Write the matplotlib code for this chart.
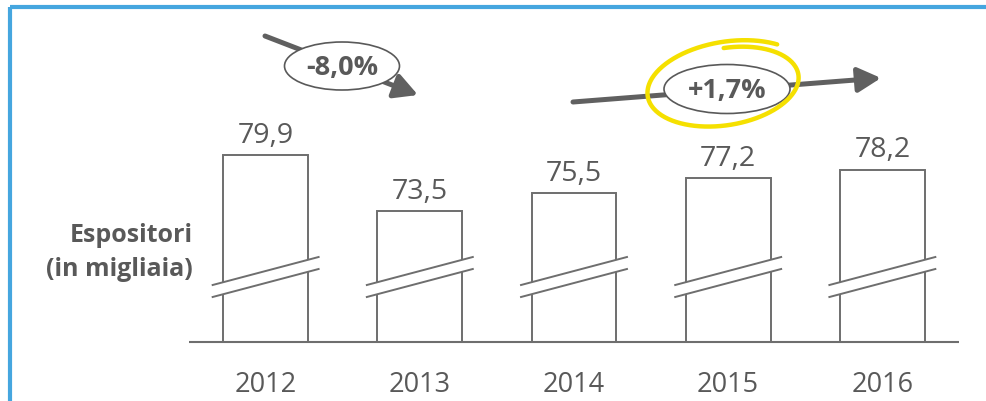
import numpy as np
import matplotlib
matplotlib.use("Agg")
import matplotlib.pyplot as plt
from matplotlib.patches import Ellipse, FancyArrowPatch, Polygon, Rectangle
from matplotlib.lines import Line2D
from matplotlib import transforms

# --- data ---
years = ["2012", "2013", "2014", "2015", "2016"]
values = [79.9, 73.5, 75.5, 77.2, 78.2]
change_down = "-8,0%"
change_up = "+1,7%"
axis_label = ["Espositori", "(in migliaia)"]

W, H = 986, 402
GRAY = "#595959"
LINE = "#6e6e6e"
BLUE = "#45A6DF"
YELLOW = "#F5E000"
FONT = "Open Sans"

fig = plt.figure(figsize=(W / 100, H / 100), dpi=100)
fig.patch.set_facecolor("white")

# pixel coordinates measured from the top-left corner of the figure
px = transforms.Affine2D().scale(1, -1).translate(0, H)

# axes box in pixels
ax_l, ax_r, ax_b, ax_t = 189, 959, 343, 10
ax = fig.add_axes([ax_l / W, (H - ax_b) / H, (ax_r - ax_l) / W, (ax_b - ax_t) / H])
ybot = 58.6
px_per_unit = 8.8
ax.set_xlim(-0.497, 4.497)
ax.set_ylim(ybot, ybot + (ax_b - ax_t) / px_per_unit)
ax.axis("off")

x = np.arange(len(years))
bar_w = 0.55
ax.bar(x, values, width=bar_w, color="white", edgecolor=LINE, linewidth=1.4, zorder=2)

# baseline
ax.plot([-0.497, 4.497], [ybot, ybot], color=LINE, lw=1.5, zorder=3, clip_on=False,
        solid_capstyle="butt")

# break marks across each bar
bt = transforms.blended_transform_factory(ax.transData, ax.transAxes)
axh = ax_b - ax_t
half = 53 / 154.25
for xi in x:
    xl, xr = xi - half, xi + half
    up_l, up_r = 57 / axh, 85 / axh
    lo_l, lo_r = 45 / axh, 73 / axh
    ax.add_patch(Polygon([[xl, lo_l], [xr, lo_r], [xr, up_r], [xl, up_l]],
                         closed=True, facecolor="white", edgecolor="none",
                         transform=bt, zorder=4, clip_on=False))
    for yl, yr in ((up_l, up_r), (lo_l, lo_r)):
        ax.add_line(Line2D([xl, xr], [yl, yr], color=LINE, lw=1.4, transform=bt,
                           zorder=5, clip_on=False))

# value labels above bars
for xi, v in zip(x, values):
    ax.annotate(f"{v:.1f}".replace(".", ","), xy=(xi, v), xytext=(0, 9.4),
                textcoords="offset points", ha="center", va="baseline",
                fontsize=20.5, color=GRAY, family=FONT, zorder=6)

# year labels under the baseline
for xi, yr in zip(x, years):
    ax.annotate(yr, xy=(xi, 0), xycoords=("data", "axes fraction"),
                xytext=(0, -35.3), textcoords="offset points", ha="center",
                va="baseline", fontsize=19.5, color=GRAY, family=FONT)

# axis caption
fig.text(193, 242, axis_label[0], transform=px, ha="right", va="baseline",
         fontsize=18, fontweight="bold", color=GRAY, family=FONT)
fig.text(193, 276, axis_label[1], transform=px, ha="right", va="baseline",
         fontsize=18, fontweight="bold", color=GRAY, family=FONT)

# trend arrows
for tail, tip in (((265, 37), (418, 96)), ((573, 103), (881, 79))):
    fig.patches.append(FancyArrowPatch(tail, tip, transform=px,
                                       arrowstyle="-|>,head_length=14,head_width=7.5",
                                       color="#606060", lw=3.6, shrinkA=0, shrinkB=0,
                                       zorder=2))

# ellipses with the percentage changes
for (cx, cy), w, h, txt in (((342, 67), 115, 48, change_down),
                            ((727, 90), 126, 49, change_up)):
    fig.patches.append(Ellipse((cx, cy), w, h, transform=px, facecolor="white",
                               edgecolor=GRAY, lw=1.2, zorder=3))
    fig.text(cx, cy + 1, txt, transform=px, ha="center", va="center",
             fontsize=19.5, fontweight="bold", color=GRAY, family=FONT, zorder=4)

# hand-drawn highlight around the positive change
t = np.linspace(-np.pi / 2 + 0.05, 3 * np.pi / 2 + 0.75, 300)
grow = np.linspace(0.9, 1.07, t.size)
a, b, th = 78, 41, np.deg2rad(-9)
hx = 726 + grow * (a * np.cos(t) * np.cos(th) - b * np.sin(t) * np.sin(th))
hy = 86 + grow * (a * np.cos(t) * np.sin(th) + b * np.sin(t) * np.cos(th))
fig.lines.append(Line2D(hx, hy, transform=px, color=YELLOW, lw=3.2,
                        solid_capstyle="round", zorder=5))

# blue frame
fig.patches.append(Rectangle((9.5, 8), W, H, transform=px, facecolor="none",
                             edgecolor=BLUE, lw=3.0, zorder=10))

fig.savefig("out.png", dpi=100, facecolor="white")
